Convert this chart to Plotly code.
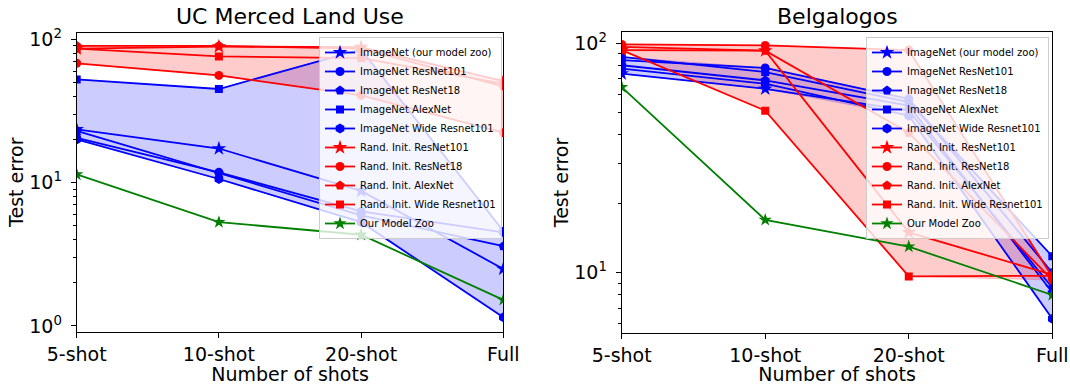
import numpy as np
import plotly.graph_objects as go

shots = ["5-shot", "10-shot", "20-shot", "Full"]
series_names = [
    "ImageNet (our model zoo)", "ImageNet ResNet101", "ImageNet ResNet18",
    "ImageNet AlexNet", "ImageNet Wide Resnet101", "Rand. Init. ResNet101",
    "Rand. Init. ResNet18", "Rand. Init. AlexNet", "Rand. Init. Wide Resnet101",
    "Our Model Zoo",
]

# UC Merced Land Use (test error, %)
ucm_imagenet_zoo = [23.5, 17.3, 8.75, 2.5]
ucm_imagenet_resnet101 = [20.5, 11.8, 6.3, 4.5]
ucm_imagenet_resnet18 = [23.0, 11.6, 5.9, 3.6]
ucm_imagenet_alexnet = [52.5, 45.0, 85.0, 4.6]
ucm_imagenet_wide = [20.0, 10.6, 5.3, 1.15]
ucm_rand_resnet101 = [86.0, 89.0, 88.0, 51.0]
ucm_rand_resnet18 = [68.0, 56.0, 40.6, 22.3]
ucm_rand_alexnet = [90.0, 90.0, 86.0, 47.0]
ucm_rand_wide = [86.0, 76.0, 74.0, 49.0]
ucm_our_zoo = [11.4, 5.3, 4.33, 1.52]

# Belgalogos (test error, %)
bel_imagenet_zoo = [73.8, 63.4, 50.9, 8.6]
bel_imagenet_resnet101 = [84.5, 78.2, 57.3, 10.0]
bel_imagenet_resnet18 = [80.3, 69.0, 53.6, 8.2]
bel_imagenet_alexnet = [87.3, 75.0, 55.5, 11.8]
bel_imagenet_wide = [77.6, 66.7, 48.4, 6.3]
bel_rand_resnet101 = [93.5, 93.0, 15.0, 9.8]
bel_rand_resnet18 = [99.0, 98.0, 93.5, 9.6]
bel_rand_alexnet = [96.5, 93.0, 40.8, 9.3]
bel_rand_wide = [93.5, 50.9, 9.64, 9.7]
bel_our_zoo = [64.5, 17.0, 13.0, 8.0]

ytick_vals = [1, 10, 100]
ytick_text = ["10<sup>0</sup>", "10<sup>1</sup>", "10<sup>2</sup>"]

colors = ["#0000ff"] * 5 + ["#ff0000"] * 4 + ["#008000"]
symbols = ["star", "circle", "pentagon", "square", "hexagon",
           "star", "circle", "pentagon", "square", "star"]
msizes = [11, 9, 10, 8, 10, 11, 9, 10, 8, 10]

FONT = "DejaVu Sans"
fig = go.Figure()


def add_panel(series, xa, ya, leg):
    blue = np.array(series[0:5])
    red = np.array(series[5:9])
    for arr, fc in [(blue, "rgba(0,0,255,0.2)"), (red, "rgba(255,0,0,0.2)")]:
        fig.add_trace(go.Scatter(x=shots, y=arr.min(axis=0), mode="lines",
                                 line=dict(width=1, color=fc), xaxis=xa, yaxis=ya,
                                 showlegend=False, hoverinfo="skip", legend=leg))
        fig.add_trace(go.Scatter(x=shots, y=arr.max(axis=0), mode="lines",
                                 line=dict(width=1, color=fc), fill="tonexty",
                                 fillcolor=fc, xaxis=xa, yaxis=ya,
                                 showlegend=False, hoverinfo="skip", legend=leg))
    for name, vals, c, s, ms in zip(series_names, series, colors, symbols, msizes):
        fig.add_trace(go.Scatter(x=shots, y=vals, mode="lines+markers", name=name,
                                 line=dict(color=c, width=1.8),
                                 marker=dict(symbol=s, size=ms, color=c, line=dict(width=0)),
                                 xaxis=xa, yaxis=ya, legend=leg))


add_panel([ucm_imagenet_zoo, ucm_imagenet_resnet101, ucm_imagenet_resnet18,
           ucm_imagenet_alexnet, ucm_imagenet_wide, ucm_rand_resnet101,
           ucm_rand_resnet18, ucm_rand_alexnet, ucm_rand_wide, ucm_our_zoo],
          "x", "y", "legend")
add_panel([bel_imagenet_zoo, bel_imagenet_resnet101, bel_imagenet_resnet18,
           bel_imagenet_alexnet, bel_imagenet_wide, bel_rand_resnet101,
           bel_rand_resnet18, bel_rand_alexnet, bel_rand_wide, bel_our_zoo],
          "x2", "y2", "legend2")

W, H = 1070, 385
L1 = (76.7 / W, 503.3 / W)
L2 = (621.7 / W, 1052.3 / W)
Y1 = (1 - 331.7 / H, 1 - 32.7 / H)
Y2 = (1 - 333.3 / H, 1 - 31.7 / H)

xcommon = dict(type="category", range=[0, 3], showgrid=False, zeroline=False,
               automargin=False,
               showline=True, mirror=True, linecolor="black", linewidth=1,
               ticks="outside", ticklen=5, tickwidth=1, tickcolor="black",
               tickfont=dict(family=FONT, size=19, color="black"),
               title=dict(text="Number of shots", font=dict(family=FONT, size=19, color="black"),
                          standoff=4))
ycommon = dict(type="log", showgrid=False, zeroline=False, automargin=False,
               showline=True, mirror=True, linecolor="black", linewidth=1,
               ticks="outside", ticklen=5, tickwidth=1, tickcolor="black",
               tickvals=ytick_vals, ticktext=ytick_text, ticklabelstandoff=5,
               tickfont=dict(family=FONT, size=19, color="black"),
               title=dict(text="Test error", font=dict(family=FONT, size=19, color="black"),
                          standoff=0))
minor_vals = [2, 3, 4, 5, 6, 7, 8, 9, 20, 30, 40, 50, 60, 70, 80, 90]

legcommon = dict(xanchor="right", y=1 - 37 / H, yanchor="top",
                 font=dict(family=FONT, size=10, color="black"),
                 bgcolor="rgba(255,255,255,0.8)", bordercolor="#cccccc",
                 borderwidth=1, itemwidth=30, tracegroupgap=0, traceorder="normal")

fig.update_layout(
    width=W, height=H, margin=dict(l=0, r=0, t=0, b=0, autoexpand=False),
    paper_bgcolor="white", plot_bgcolor="white",
    font=dict(family=FONT, color="black"),
    xaxis=dict(domain=list(L1), anchor="y", **xcommon),
    yaxis=dict(domain=list(Y1), anchor="x", range=[-0.04, 2.046],
               minor=dict(tickvals=minor_vals, ticks="outside", ticklen=3,
                          tickcolor="black", showgrid=False), **ycommon),
    xaxis2=dict(domain=list(L2), anchor="y2", **xcommon),
    yaxis2=dict(domain=list(Y2), anchor="x2", range=[0.736, 2.051],
                minor=dict(tickvals=minor_vals, ticks="outside", ticklen=3,
                           tickcolor="black", showgrid=False), **ycommon),
    legend=dict(x=502 / W, **legcommon),
    legend2=dict(x=1049 / W, **legcommon),
    annotations=[
        dict(text="UC Merced Land Use", x=(L1[0] + L1[1]) / 2, y=1 - 16 / H,
             xref="paper", yref="paper", xanchor="center", yanchor="middle",
             showarrow=False, font=dict(family=FONT, size=22, color="black")),
        dict(text="Belgalogos", x=(L2[0] + L2[1]) / 2, y=1 - 16 / H,
             xref="paper", yref="paper", xanchor="center", yanchor="middle",
             showarrow=False, font=dict(family=FONT, size=22, color="black")),
    ],
)

fig.write_html("out.html")
